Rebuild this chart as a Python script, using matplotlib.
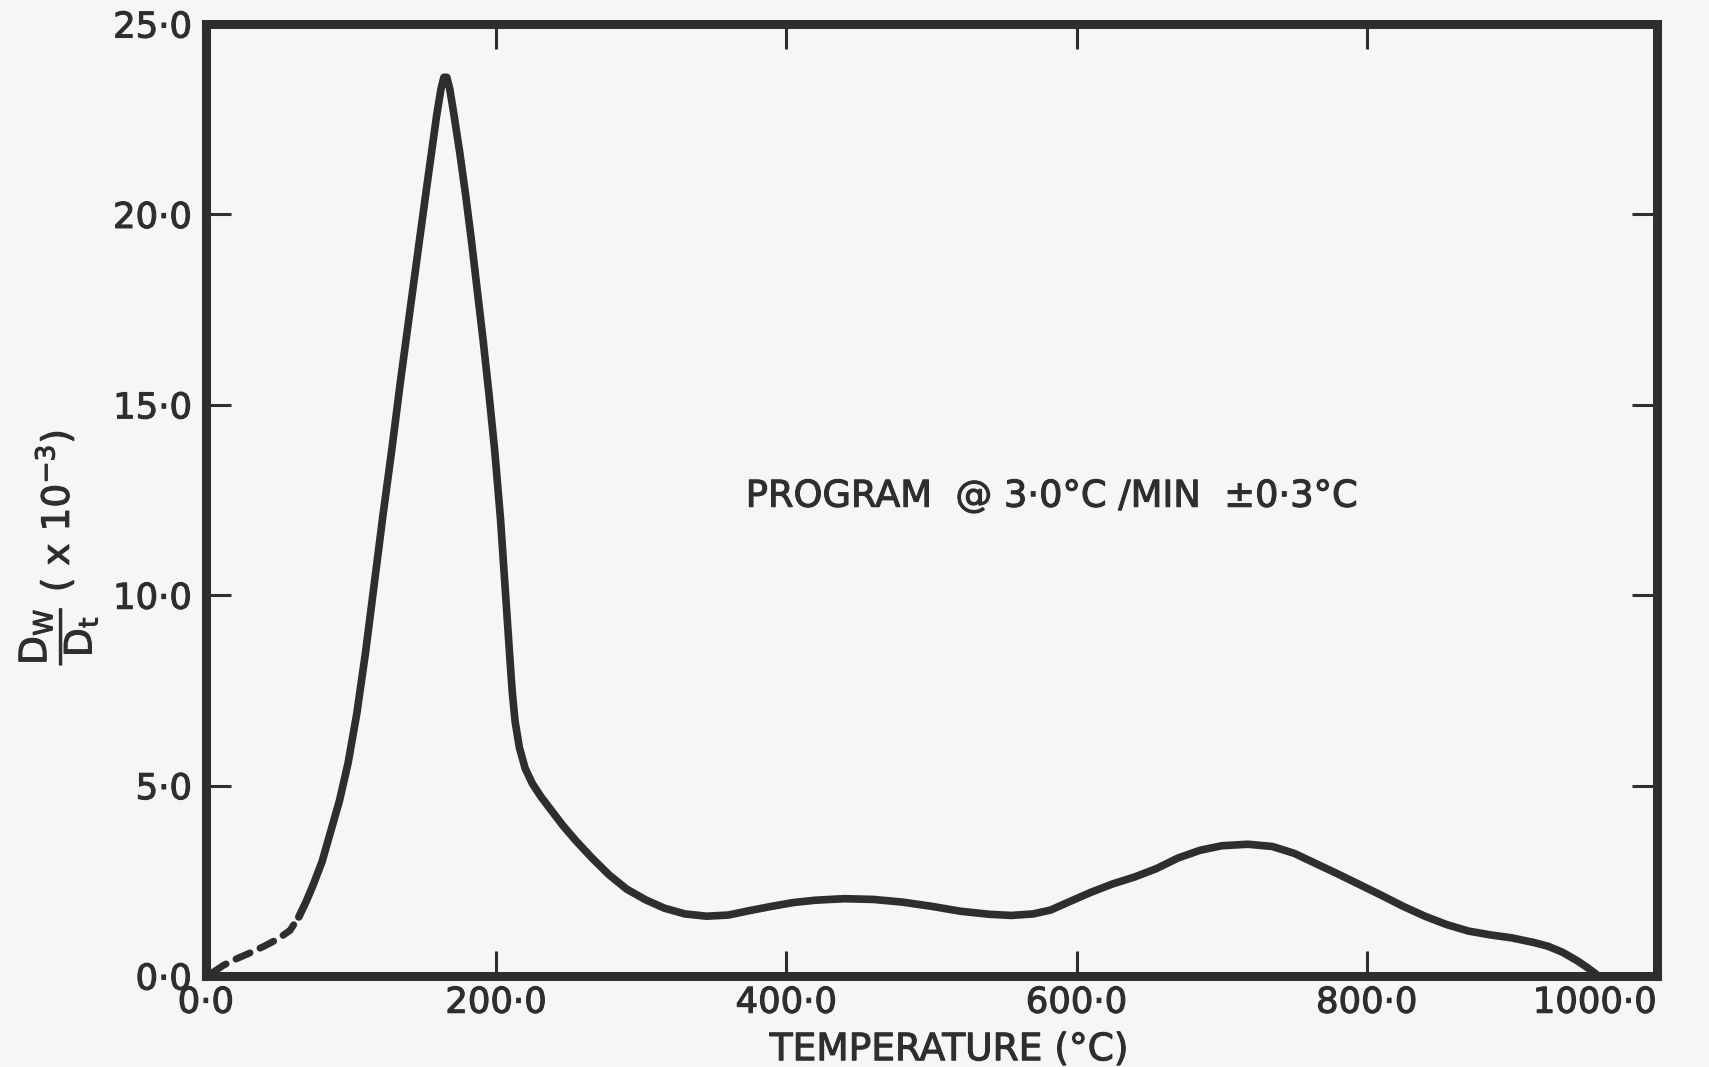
import matplotlib.pyplot as plt
import matplotlib.patheffects as pe
import numpy as np

plt.rcParams['font.family'] = ['DejaVu Sans']
plt.rcParams['mathtext.default'] = 'regular'

# dashed start of the curve (extrapolated part)
temp_dash = [5, 12, 21, 30, 40, 50, 58, 64]
dwdt_dash = [0.1, 0.28, 0.45, 0.6, 0.78, 0.98, 1.2, 1.55]

# measured curve, temperature (C) vs dW/dt (x10^-3)
temp = [64, 69, 74, 80, 86, 92, 98, 104, 110, 116, 122, 128, 134, 140, 146,
        151, 155, 159, 162, 164, 166, 168, 171, 175, 179, 183, 187, 191, 195,
        199, 203, 206, 209, 211, 213, 216, 220, 225, 231, 238, 246, 255, 266,
        278, 290, 303, 316, 330, 345, 360, 375, 390, 405, 420, 440, 460, 480,
        500, 520, 540, 555, 570, 582, 595, 610, 625, 640, 655, 670, 685, 700,
        718, 735, 750, 765, 780, 795, 810, 825, 840, 855, 870, 885, 900, 915,
        925, 935, 945, 952, 958]
dwdt = [1.55, 1.95, 2.4, 3.0, 3.8, 4.6, 5.6, 6.9, 8.5, 10.3, 12.1, 13.8, 15.6,
        17.3, 19.0, 20.4, 21.5, 22.6, 23.3, 23.6, 23.6, 23.3, 22.6, 21.6, 20.5,
        19.3, 18.0, 16.7, 15.3, 13.8, 12.0, 10.3, 8.6, 7.5, 6.7, 6.0, 5.45,
        5.05, 4.7, 4.35, 3.95, 3.55, 3.1, 2.65, 2.28, 2.0, 1.78, 1.63, 1.57,
        1.6, 1.72, 1.83, 1.93, 1.99, 2.03, 2.01, 1.94, 1.83, 1.7, 1.62, 1.59,
        1.63, 1.73, 1.95, 2.2, 2.42, 2.6, 2.82, 3.1, 3.3, 3.42, 3.46, 3.4,
        3.22, 2.95, 2.68, 2.4, 2.12, 1.83, 1.57, 1.35, 1.18, 1.08, 1.0, 0.88,
        0.78, 0.62, 0.4, 0.22, 0.05]

x_ticks = [0, 200, 400, 600, 800, 1000]
x_labels = ['0·0', '200·0', '400·0', '600·0', '800·0', '1000·0']
y_ticks = [0, 5, 10, 15, 20, 25]
y_labels = ['0·0', '5·0', '10·0', '15·0', '20·0', '25·0']

ink = '#2e2e2e'
paper = '#f6f6f4'
heavy = [pe.withStroke(linewidth=0.8, foreground=ink)]

fig = plt.figure(figsize=(17.09, 10.67), dpi=100, facecolor=paper)
ax = fig.add_axes([0.1205, 0.0853, 0.8491, 0.8922], facecolor=paper)

ax.plot(temp_dash, dwdt_dash, color=ink, lw=5.0, ls=(0, (2.2, 1.6)),
        solid_capstyle='round', dash_capstyle='round')
ax.plot(temp, dwdt, color=ink, lw=5.5, solid_joinstyle='round',
        solid_capstyle='round')

ax.set_xlim(0, 1000)
ax.set_ylim(0, 25)
ax.set_xticks(x_ticks)
ax.set_xticklabels(x_labels)
ax.set_yticks(y_ticks)
ax.set_yticklabels(y_labels)

ax.tick_params(direction='in', length=18, width=2.2, color=ink,
               labelsize=25.5, labelcolor=ink, top=True, right=True)
ax.tick_params(axis='x', pad=7)
ax.tick_params(axis='y', pad=10)
for lab in ax.get_xticklabels() + ax.get_yticklabels():
    lab.set_path_effects(heavy)
# last label sits right at the figure edge, nudge it in a little
ax.get_xticklabels()[-1].set_horizontalalignment('right')
ax.get_xticklabels()[-1].set_x(1000)

for sp in ax.spines.values():
    sp.set_linewidth(6.5)
    sp.set_color(ink)
    sp.set_capstyle('projecting')

ax.text(372, 12.6, 'PROGRAM  @ 3·0°C /MIN  ±0·3°C', fontsize=26.5,
        color=ink, va='center', ha='left', path_effects=heavy)

ax.set_xlabel('TEMPERATURE (°C)', fontsize=27, color=ink,
              path_effects=heavy)
ax.xaxis.set_label_coords(0.512, -0.059)
ax.set_ylabel(r'$\dfrac{D_W}{D_t}$ ( x 10$^{-3}$)', fontsize=27, color=ink,
              path_effects=heavy)
ax.yaxis.set_label_coords(-0.073, 0.45)

fig.savefig('out.png', dpi=100, facecolor=paper)
